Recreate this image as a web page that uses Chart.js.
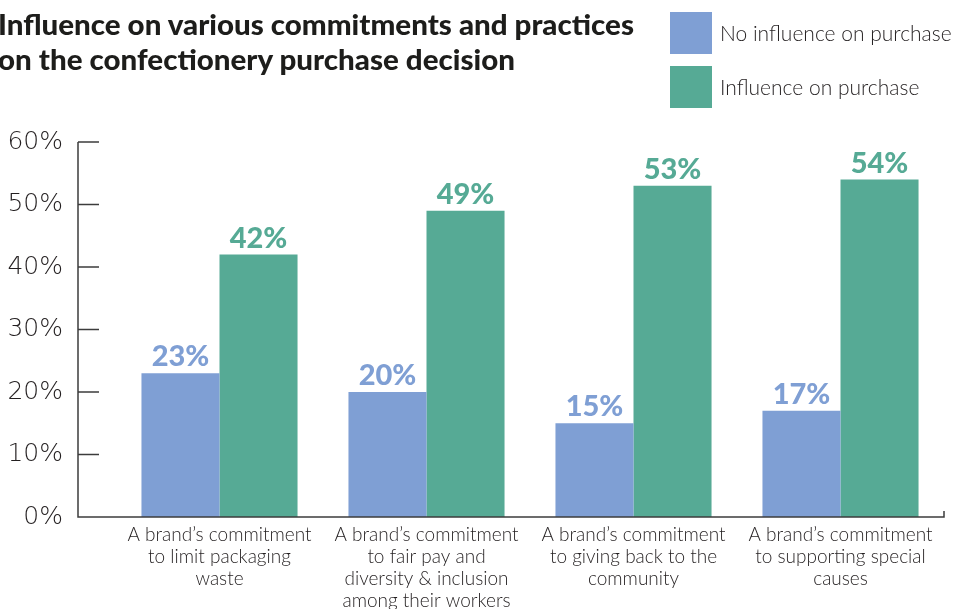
<!DOCTYPE html>
<html>
<head>
<meta charset="utf-8">
<script src="https://cdn.jsdelivr.net/npm/chart.js@4.4.0/dist/chart.umd.min.js"></script>
<style>
    html, body { margin: 0; padding: 0; background: #fff; }
    #wrap { position: relative; width: 954px; height: 609px; overflow: hidden; }
    #chart { position: absolute; left: 0; top: 0; }
    .title {
        position: absolute; left: -2px; top: 6px;
        font-family: Lato, sans-serif;
        font-weight: 900; font-size: 29px; line-height: 35px; color: #1d1d1b;
        white-space: nowrap; transform-origin: 0 0;
    }
    .legend { position: absolute; left: 670px; top: 12px; }
    .legend .item { position: relative; height: 42px; margin-bottom: 12px; }
    .legend .box { position: absolute; left: 0; top: 0; width: 42px; height: 42px; }
    .legend .txt {
        position: absolute; left: 50px; top: 8px; white-space: nowrap;
        font-family: Lato, sans-serif; font-weight: 300; font-size: 21px; color: #231f20;
    }
</style>
</head>
<body>
<div id="wrap">
    <canvas id="chart" width="954" height="609"></canvas>
    <div class="title" id="title">Influence on various commitments and practices<br>on the confectionery purchase decision</div>
    <div class="legend" id="legend"></div>
</div>
<script>
// 数据
const categories = [
    ['A brand\u2019s commitment', 'to limit packaging', 'waste'],
    ['A brand\u2019s commitment', 'to fair pay and', 'diversity & inclusion', 'among their workers'],
    ['A brand\u2019s commitment', 'to giving back to the', 'community'],
    ['A brand\u2019s commitment', 'to supporting special', 'causes']
];
const seriesNames = ['No influence on purchase', 'Influence on purchase'];
const noInfluence = [23, 20, 15, 17];
const influence = [42, 49, 53, 54];
const yTicks = [0, 10, 20, 30, 40, 50, 60];

const colors = ['#7f9fd4', '#56aa95'];

// 标题压窄到参考宽度
const title = document.getElementById('title');
title.style.transform = 'scaleX(' + (636 / title.scrollWidth) + ')';

// 图例
const legend = document.getElementById('legend');
seriesNames.forEach(function(name, i) {
    const item = document.createElement('div');
    item.className = 'item';
    item.innerHTML = '<div class="box" style="background:' + colors[i] + '"></div><div class="txt">' + name + '</div>';
    legend.appendChild(item);
});

// 坐标轴线和内侧刻度
const axisPlugin = {
    id: 'axisLines',
    afterDraw(chart) {
        const ctx = chart.ctx;
        const y = chart.scales.y;
        const area = chart.chartArea;
        const x0 = 78;
        ctx.save();
        ctx.strokeStyle = '#3c3c3c';
        ctx.lineWidth = 1.5;
        ctx.beginPath();
        ctx.moveTo(x0, y.getPixelForValue(60));
        ctx.lineTo(x0, y.getPixelForValue(0));
        ctx.lineTo(area.right, y.getPixelForValue(0));
        ctx.lineTo(area.right, y.getPixelForValue(0) - 6);
        yTicks.forEach(function(v) {
            const py = y.getPixelForValue(v);
            ctx.moveTo(x0, py);
            ctx.lineTo(x0 + 21, py);
        });
        ctx.stroke();
        ctx.restore();
    }
};

// 柱顶数值
const valuePlugin = {
    id: 'barValues',
    afterDatasetsDraw(chart) {
        const ctx = chart.ctx;
        ctx.save();
        ctx.font = '900 29px Lato, sans-serif';
        ctx.textAlign = 'center';
        ctx.textBaseline = 'alphabetic';
        chart.data.datasets.forEach(function(ds, di) {
            chart.getDatasetMeta(di).data.forEach(function(bar, i) {
                ctx.fillStyle = colors[di];
                ctx.fillText(ds.data[i] + '%', bar.x, bar.y - 7);
            });
        });
        ctx.restore();
    }
};

new Chart(document.getElementById('chart').getContext('2d'), {
    type: 'bar',
    data: {
        labels: categories,
        datasets: [
            { label: seriesNames[0], data: noInfluence, backgroundColor: colors[0] },
            { label: seriesNames[1], data: influence, backgroundColor: colors[1] }
        ]
    },
    options: {
        responsive: false,
        animation: false,
        layout: { padding: { top: 142, right: 10, left: 0, bottom: 0 } },
        datasets: { bar: { categoryPercentage: 0.754, barPercentage: 1, borderWidth: 0 } },
        plugins: { legend: { display: false }, tooltip: { enabled: false } },
        scales: {
            x: {
                grid: { display: false, drawTicks: false },
                border: { display: false },
                afterFit(scale) { scale.height = 92; },
                ticks: {
                    padding: 7,
                    maxRotation: 0,
                    autoSkip: false,
                    color: '#231f20',
                    font: { family: 'Lato, sans-serif', size: 19, weight: '300', lineHeight: 1.16 }
                }
            },
            y: {
                min: 0,
                max: 60,
                grid: { display: false, drawTicks: false },
                border: { display: false },
                afterFit(scale) { scale.width = 116; },
                afterBuildTicks(scale) { scale.ticks = yTicks.map(v => ({ value: v })); },
                ticks: {
                    padding: 53,
                    color: '#231f20',
                    font: { family: '"DejaVu Sans", sans-serif', size: 25, weight: '200' },
                    callback: v => v + '%'
                }
            }
        }
    },
    plugins: [axisPlugin, valuePlugin]
});
</script>
</body>
</html>
